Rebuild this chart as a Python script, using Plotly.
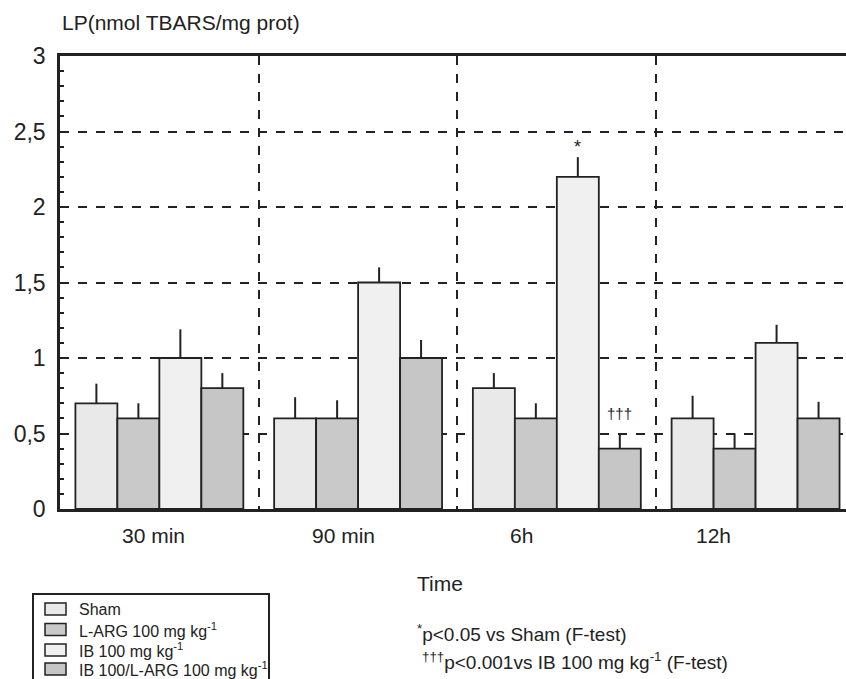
import plotly.graph_objects as go

groups = ["30 min", "90 min", "6h", "12h"]
series_names = ["Sham", "L-ARG 100 mg kg<sup>-1</sup>", "IB 100 mg kg<sup>-1</sup>",
                "IB 100/L-ARG 100 mg kg<sup>-1</sup>"]
sham = [0.7, 0.6, 0.8, 0.6]
larg = [0.6, 0.6, 0.6, 0.4]
ib = [1.0, 1.5, 2.2, 1.1]
ib_larg = [0.8, 1.0, 0.4, 0.6]
sham_err = [0.13, 0.14, 0.10, 0.15]
larg_err = [0.10, 0.12, 0.10, 0.10]
ib_err = [0.19, 0.10, 0.13, 0.12]
ib_larg_err = [0.10, 0.12, 0.10, 0.11]
y_ticks = [0, 0.5, 1, 1.5, 2, 2.5, 3]
y_ticktext = ["0", "0,5", "1", "1,5", "2", "2,5", "3"]

values = [sham, larg, ib, ib_larg]
errors = [sham_err, larg_err, ib_err, ib_larg_err]
colors = ["#e9e9e9", "#c9c9c9", "#f0f0f0", "#c6c6c6"]

FONT = "Liberation Sans, Arial, sans-serif"
INK = "#222222"
x_pos = list(range(len(groups)))
bargap = 0.155

# plot area in pixels (used to place free text in paper coordinates)
L, T, W, H = 60, 56, 786, 453


def px(x):
    return (x - L) / W


def py(y):
    return (T + H - y) / H


fig = go.Figure()
for name, vals, errs, col in zip(series_names, values, errors, colors):
    fig.add_trace(go.Bar(
        x=x_pos, y=vals, name=name,
        marker=dict(color=col, line=dict(color=INK, width=1.8)),
        error_y=dict(type="data", array=errs, arrayminus=[0] * len(errs),
                     symmetric=False, color=INK, thickness=2, width=0),
        showlegend=False,
    ))

# significance markers
w = (1 - bargap) / 4
fig.add_annotation(x=2 + (2 - 1.5) * w, y=ib[2] + ib_err[2], text="*", showarrow=False,
                   yanchor="bottom", yshift=-2, font=dict(family=FONT, size=18, color=INK))
fig.add_annotation(x=2 + (3 - 1.5) * w, y=ib_larg[2] + ib_larg_err[2], text="†††", showarrow=False,
                   yanchor="bottom", yshift=10, font=dict(family=FONT, size=15, color=INK))

# category labels (slightly left of group centres, as in the original)
label_shift = [-6, -15, -35, -42]
for i, g in enumerate(groups):
    fig.add_annotation(x=i, y=0, yref="y", text=g, showarrow=False, yanchor="top",
                       yshift=-13, xshift=label_shift[i],
                       font=dict(family=FONT, size=21, color=INK))

fig.add_annotation(x=px(440), y=py(583), xref="paper", yref="paper", text="Time", showarrow=False,
                   xanchor="center", yanchor="middle", font=dict(family=FONT, size=21, color=INK))
fig.add_annotation(x=px(60), y=py(22), xref="paper", yref="paper",
                   text="LP(nmol TBARS/mg prot)", showarrow=False,
                   xanchor="left", yanchor="middle", font=dict(family=FONT, size=21, color=INK))
fig.add_annotation(x=px(415), y=py(633), xref="paper", yref="paper",
                   text="<sup>*</sup>p<0.05 vs Sham (F-test)", showarrow=False,
                   xanchor="left", yanchor="middle", font=dict(family=FONT, size=19, color=INK))
fig.add_annotation(x=px(420), y=py(661), xref="paper", yref="paper",
                   text="<sup>†††</sup>p<0.001vs IB 100 mg kg<sup>-1</sup> (F-test)", showarrow=False,
                   xanchor="left", yanchor="middle", font=dict(family=FONT, size=19, color=INK))

# legend box drawn by hand (the original's rows are tighter than Plotly's legend allows)
fig.add_shape(type="rect", xref="paper", yref="paper", x0=px(33), x1=px(269), y0=py(700), y1=py(594),
              line=dict(color=INK, width=2), fillcolor="white", layer="above")
row_y = [609, 629.5, 650, 669]
for name, col, ry in zip(series_names, colors, row_y):
    fig.add_shape(type="rect", xref="paper", yref="paper", x0=px(45), x1=px(66),
                  y0=py(ry + 6), y1=py(ry - 6), line=dict(color=INK, width=1.5),
                  fillcolor=col, layer="above")
    fig.add_annotation(x=px(77), y=py(ry), xref="paper", yref="paper", text=name,
                       showarrow=False, xanchor="left", yanchor="middle",
                       font=dict(family=FONT, size=16, color=INK))

fig.update_layout(
    width=846, height=679,
    margin=dict(l=L, r=846 - L - W, t=T, b=679 - T - H, autoexpand=False),
    paper_bgcolor="white", plot_bgcolor="white",
    barmode="group", bargap=bargap, bargroupgap=0,
    font=dict(family=FONT, color=INK),
    showlegend=False,
    xaxis=dict(range=[-0.5, 3.455], tickvals=[0.5, 1.5, 2.5], showticklabels=False,
               ticks="", showgrid=True, griddash="dash", gridcolor=INK, gridwidth=2,
               showline=True, linecolor=INK, linewidth=2.5, mirror=True, zeroline=False),
    yaxis=dict(range=[0, 3], tickvals=y_ticks, ticktext=y_ticktext, ticks="inside",
               ticklen=7, tickwidth=2, tickcolor=INK, ticklabelstandoff=7,
               tickfont=dict(family=FONT, size=23, color=INK),
               showgrid=True, griddash="dash", gridcolor=INK, gridwidth=2,
               showline=True, linecolor=INK, linewidth=2.5, zeroline=False,
               minor=dict(ticks="inside", ticklen=4, tickwidth=1.5, dtick=0.1,
                          tickcolor=INK, showgrid=False)),
)

fig.write_html("out.html", config={"displayModeBar": False},
               post_script="document.body.style.margin='0';")
